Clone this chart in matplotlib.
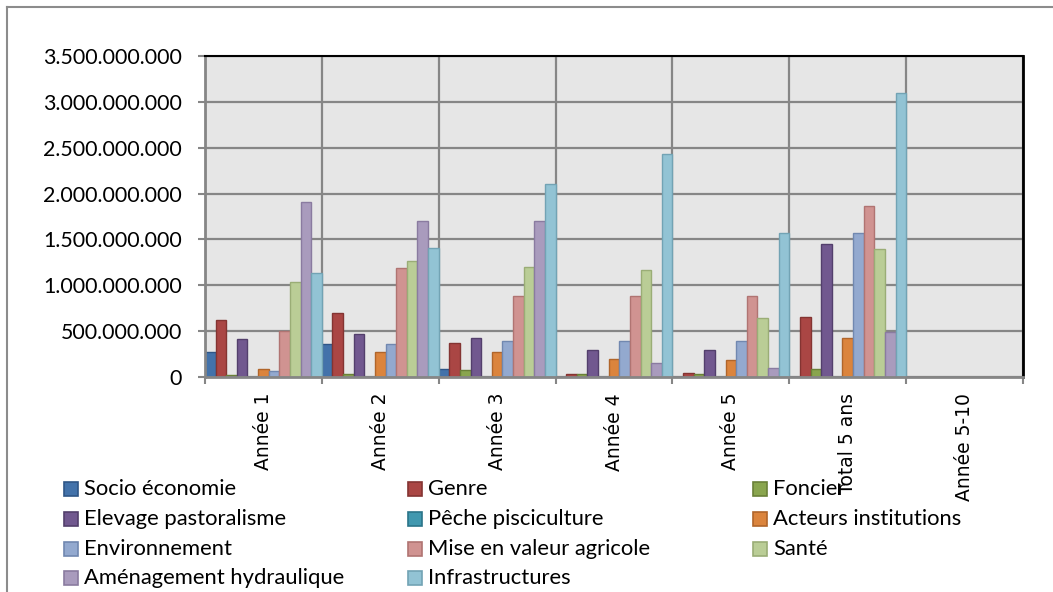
import matplotlib
matplotlib.use('Agg')
import matplotlib.pyplot as plt
from matplotlib.patches import Rectangle
from matplotlib.lines import Line2D
from matplotlib.ticker import FuncFormatter, MultipleLocator
import numpy as np

W, H = 1053, 592

categories = ['Année 1', 'Année 2', 'Année 3', 'Année 4', 'Année 5', 'Total 5 ans', 'Année 5-10']

series_names = [
    'Socio économie', 'Genre', 'Foncier',
    'Elevage pastoralisme', 'Pêche pisciculture', 'Acteurs institutions',
    'Environnement', 'Mise en valeur agricole', 'Santé',
    'Aménagement hydraulique', 'Infrastructures',
]

# montants par poste (FCFA), une valeur par colonne de categories
socio = [273e6, 364e6, 91e6, 0, 0, 0, 0]
genre = [618e6, 702e6, 371e6, 36e6, 44e6, 655e6, 0]
foncier = [18e6, 36e6, 73e6, 36e6, 36e6, 84e6, 0]
elevage = [411e6, 473e6, 426e6, 291e6, 291e6, 1448e6, 0]
peche = [5e6, 5e6, 5e6, 5e6, 5e6, 5e6, 0]
acteurs = [84e6, 273e6, 273e6, 200e6, 182e6, 429e6, 0]
environnement = [65e6, 357e6, 393e6, 393e6, 393e6, 1572e6, 0]
mise_en_valeur = [502e6, 1193e6, 884e6, 884e6, 884e6, 1866e6, 0]
sante = [1037e6, 1262e6, 1200e6, 1171e6, 644e6, 1401e6, 0]
amenagement = [1903e6, 1703e6, 1703e6, 153e6, 98e6, 491e6, 0]
infrastructures = [1139e6, 1408e6, 2099e6, 2427e6, 1575e6, 3092e6, 0]

series_values = [socio, genre, foncier, elevage, peche, acteurs,
                 environnement, mise_en_valeur, sante, amenagement, infrastructures]

fills = ['#4372AA', '#AA4644', '#89A54E', '#71588F', '#4198AF', '#DB843D',
         '#93A9CF', '#D09391', '#BACD96', '#A99BBD', '#92C3D4']
edges = ['#2F5687', '#843432', '#6A8038', '#533F6C', '#2B7489', '#B0652A',
         '#7188B0', '#B07472', '#9AAD76', '#8A7BA0', '#72A3B4']

GRID = '#868686'
PLOT_BG = '#E6E6E6'

fig = plt.figure(figsize=(W / 100, H / 100), dpi=100)
fig.patch.set_facecolor('white')

# bordure de la zone de graphique
fig.add_artist(Line2D([7 / W, 7 / W], [0, 1 - 7 / H], color='#8C8C8C', lw=1.5))
fig.add_artist(Line2D([7 / W, 1], [1 - 7 / H, 1 - 7 / H], color='#8C8C8C', lw=1.5))

ax = fig.add_axes([205 / W, 1 - 377 / H, (1023 - 205) / W, (377 - 56) / H])
ax.set_facecolor(PLOT_BG)

n_series = len(series_values)
bar_w = 1.0 / n_series
x0 = np.arange(len(categories))
for j, vals in enumerate(series_values):
    ax.bar(x0 + j * bar_w, vals, width=bar_w, align='edge',
           color=fills[j], edgecolor=edges[j], linewidth=1.0, zorder=2)

ax.set_xlim(0, len(categories))
ax.set_ylim(0, 3.5e9)

# axe des valeurs
ax.yaxis.set_major_locator(MultipleLocator(5e8))
ax.yaxis.set_major_formatter(FuncFormatter(lambda v, p: f'{int(round(v)):,}'.replace(',', '.')))
ax.tick_params(axis='y', direction='out', length=5, width=1.5, color=GRID, pad=11.5,
               labelsize=15.4)
for lab in ax.get_yticklabels():
    lab.set_fontfamily(['Lato', 'DejaVu Sans'])

# axe des catégories : traits aux limites, libellés au centre
ax.set_xticks(np.arange(len(categories) + 1))
ax.set_xticks(x0 + 0.5, minor=True)
ax.set_xticklabels([''] * (len(categories) + 1))
ax.set_xticklabels(categories, minor=True, rotation=90, fontsize=13.5,
                   fontfamily='DejaVu Sans')
ax.tick_params(axis='x', which='major', direction='out', length=5, width=1.5, color=GRID)
ax.tick_params(axis='x', which='minor', length=0, pad=11.5)

ax.grid(True, which='major', color=GRID, linewidth=1.6, zorder=1)
ax.set_axisbelow(True)

ax.spines['left'].set_color(GRID)
ax.spines['left'].set_linewidth(2)
ax.spines['bottom'].set_color(GRID)
ax.spines['bottom'].set_linewidth(2)
ax.spines['top'].set_color('black')
ax.spines['top'].set_linewidth(1.5)
ax.spines['right'].set_color('black')
ax.spines['right'].set_linewidth(2)
for sp in ax.spines.values():
    sp.set_zorder(3)

# légende sur trois colonnes
col_x = [64, 408, 753]
row_y = [489, 519, 549, 578]
for k, name in enumerate(series_names):
    cx = col_x[k % 3]
    cy = row_y[k // 3]
    fig.add_artist(Rectangle((cx / W, 1 - (cy + 7) / H), 14 / W, 14 / H,
                             transform=fig.transFigure, facecolor=fills[k],
                             edgecolor=edges[k], linewidth=1.2))
    fig.text((cx + 20) / W, 1 - cy / H, name, fontsize=15.8, va='center', ha='left',
             family=['Lato', 'DejaVu Sans'])

fig.savefig('out.png', dpi=100, facecolor='white')
